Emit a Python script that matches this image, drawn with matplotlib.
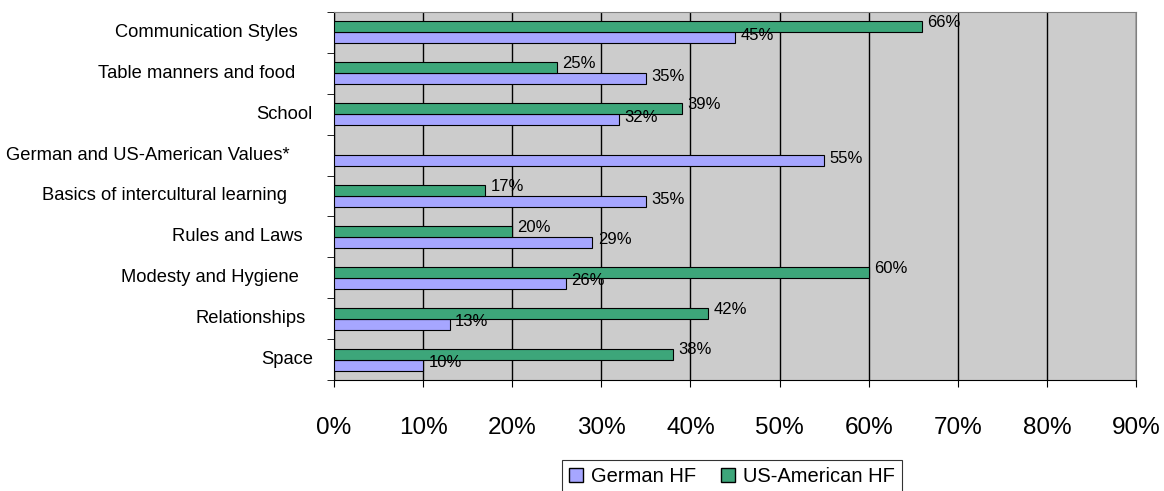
import matplotlib
matplotlib.use("Agg")
import matplotlib.pyplot as plt
import numpy as np
from matplotlib.patches import Patch
import matplotlib.transforms as mtrans

plt.rcParams['font.family'] = ['Liberation Sans', 'DejaVu Sans']

categories = ["Communication Styles", "Table manners and food", "School",
              "German and US-American Values*", "Basics of intercultural learning",
              "Rules and Laws", "Modesty and Hygiene", "Relationships", "Space"]
german = [45, 35, 32, 55, 35, 29, 26, 13, 10]
us = [66, 25, 39, 0, 17, 20, 60, 42, 38]
xticks = [0, 10, 20, 30, 40, 50, 60, 70, 80, 90]

# label right-edge positions in pixels (layout only)
label_right_px = [298, 295, 312, 290, 287, 303, 299, 306, 313]

fig = plt.figure(figsize=(11.64, 4.91), dpi=100)
ax_left_px = 334
ax_w_px = 1136 - 334
ax = fig.add_axes([ax_left_px/1164, 1-380/491, ax_w_px/1164, (380-12)/491])
ax.set_facecolor('#CCCCCC')

n = len(categories)
y = np.arange(n)
h = 0.27
c_g = '#A6A6FF'
c_u = '#3DA67A'
ax.barh(y + h/2, german, height=h, color=c_g, edgecolor='black', linewidth=0.8, zorder=3)
for i, v in enumerate(us):
    if v > 0:
        ax.barh(y[i] - h/2, v, height=h, color=c_u, edgecolor='black', linewidth=0.8, zorder=3)
        ax.text(v + 0.6, y[i] - h/2 - 0.1, f"{v}%", va='center', ha='left', fontsize=12, zorder=4)
for i, v in enumerate(german):
    ax.text(v + 0.6, y[i] + h/2 - 0.06, f"{v}%", va='center', ha='left', fontsize=12, zorder=4)

ax.set_ylim(n - 0.5, -0.5)
ax.set_xlim(0, 90)
ax.set_xticks(xticks)
ax.set_xticklabels([f"{t}%" for t in xticks], fontsize=17.5)
ax.set_yticks(y)
ax.set_yticklabels([])
ax.tick_params(axis='y', length=0)
ax.set_yticks(np.arange(n + 1) - 0.5, minor=True)
ax.tick_params(axis='y', which='minor', length=5, direction='out', color='black')
ax.tick_params(axis='x', length=5, direction='out', pad=22, color='black')
ax.grid(axis='x', color='black', linewidth=1, zorder=1)
for s in ['top', 'right']:
    ax.spines[s].set_color('#808080')
for s in ['left', 'bottom']:
    ax.spines[s].set_color('black')

trans = mtrans.blended_transform_factory(ax.transAxes, ax.transData)
for i, lab in enumerate(categories):
    xa = (label_right_px[i] - ax_left_px) / ax_w_px
    ax.text(xa, y[i], lab, transform=trans, ha='right', va='center', fontsize=13.2, clip_on=False)

handles = [Patch(facecolor=c_g, edgecolor='black', label='German HF'),
           Patch(facecolor=c_u, edgecolor='black', label='US-American HF')]
leg = fig.legend(handles=handles, loc='upper center', bbox_to_anchor=(732/1164, 1-450/491),
                 ncol=2, fontsize=14.5, frameon=True, fancybox=False, edgecolor='black',
                 handlelength=0.7, handleheight=0.7, handletextpad=0.4, columnspacing=1.2,
                 borderpad=0.35)
leg.get_frame().set_linewidth(0.8)

fig.savefig('out.png', dpi=100)
